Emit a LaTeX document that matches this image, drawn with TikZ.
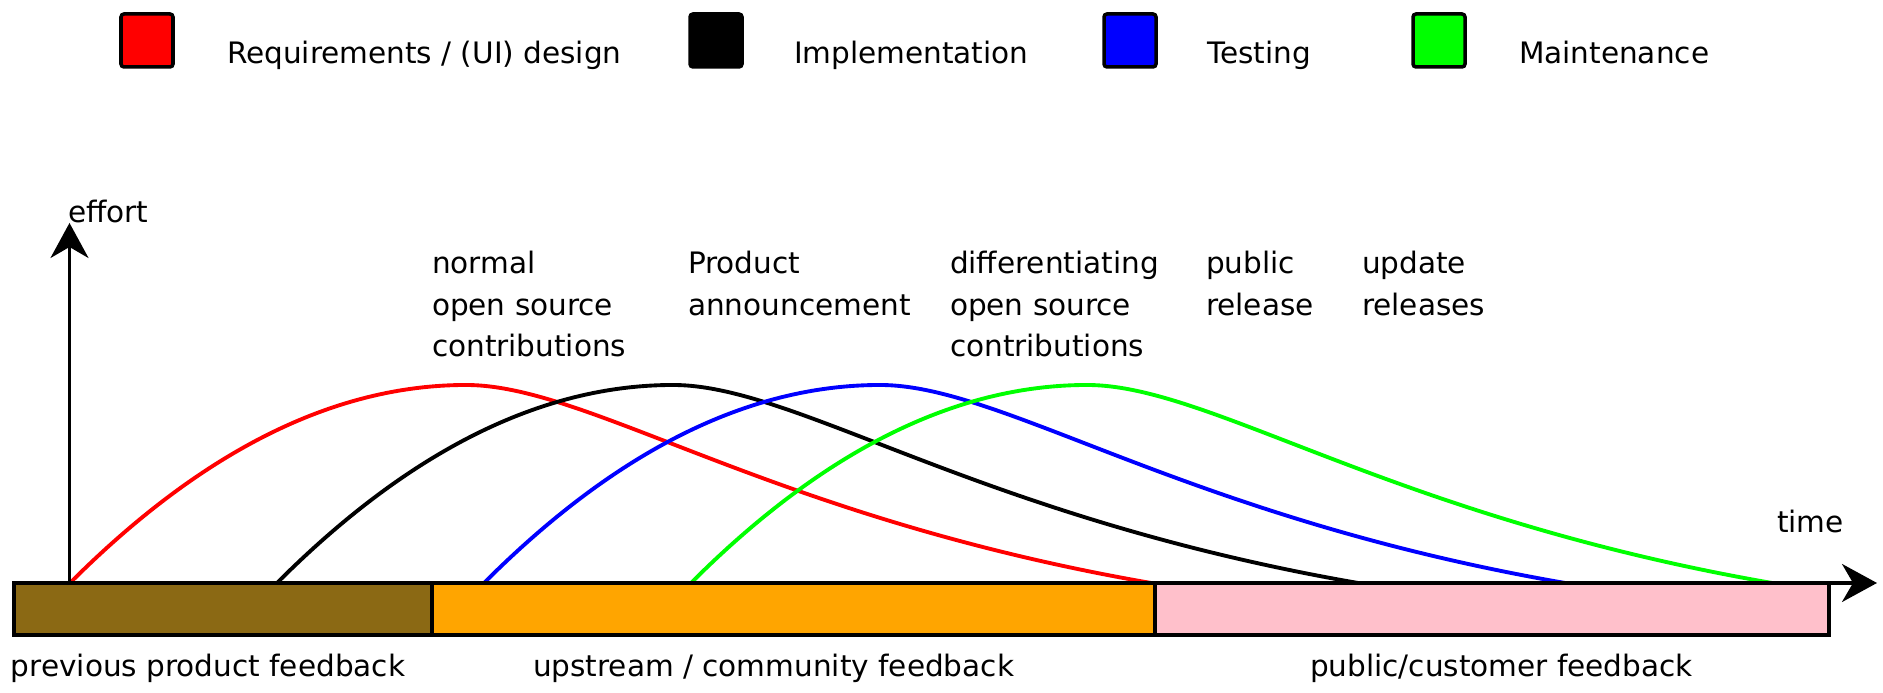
\documentclass[tikz,border=0pt]{standalone}
\usepackage{fontspec}
\setmainfont{DejaVu Sans}
\usetikzlibrary{calc,arrows.meta}
\definecolor{bandbrown}{HTML}{8B6914}
\definecolor{bandorange}{HTML}{FFA500}
\definecolor{bandpink}{HTML}{FFC0CB}
\definecolor{puregreen}{HTML}{00FF00}
\tikzset{>={Stealth[length=3.5mm,width=3.8mm,inset=1.1mm]},inner sep=0pt, outer sep=0pt,
	every node/.style={font=\fontsize{8.4pt}{11.7pt}\selectfont},
	legendbox/.style={draw=black, line width=1pt, rounded corners=0.3mm, minimum width=5.2mm, minimum height=5.3mm, anchor=south west},
	band/.style={draw=black, line width=0.9pt},
	effortcurve/.style={line width=1.1pt},
	axis/.style={line width=0.9pt,->},
	note/.style={anchor=north west, align=left},
}

\begin{document}
\begin{tikzpicture}[x=0.1mm,y=0.1mm]
				\useasboundingbox (0,0) rectangle (1883,693);
				
				% legend
				\node[legendbox, fill=red] (reqbox) at (121,626) {};
				\node[legendbox, fill=black] (implbox) at (690,626) {};
				\node[legendbox, fill=blue] (testbox) at (1104,626) {};
				\node[legendbox, fill=puregreen] (maintbox) at (1413,626) {};
				\node[anchor=base west] (reqtext) at (227,629) {Requirements / (UI) design};
				\node[anchor=base west] (impltext) at (794,629) {Implementation};
				\node[anchor=base west] (testtext) at (1207,629) {Testing};
				\node[anchor=base west] (mainttext) at (1519,629) {Maintenance};
				
				% feedback bands
				\coordinate (B) at (14,110);
				\draw[band, fill=bandbrown] (14,58) rectangle (432,110);
				\draw[band, fill=bandorange] (432,58) rectangle (1155,110);
				\draw[band, fill=bandpink] (1155,58) rectangle (1829,110);
				
				% effort curves
				\foreach \col/\s in {red/70, black/277, blue/484, puregreen/691}
					\draw[effortcurve, draw=\col, shift={(\s,110)}] (0,0) .. controls (132,132) and (264,198) .. (396,198) .. controls (520,198) and (700,66) .. (1081,0);
				
				% axes
				\coordinate (O) at (69.5,110);
				\coordinate (Y) at (69.5,470);
				\coordinate (X) at (1877,110);
				\draw[axis] (O)--(Y);
				\draw[axis] (B)--(X);
				\node[anchor=base west] (effort) at (68,470) {effort};
				\node[anchor=base west] (time) at (1777,160) {time};
				
				% milestones
				\node[note] (normal) at (432,441.5) {normal\\open source\\contributions};
				\node[note] (announce) at (688,441.5) {Product\\announcement};
				\node[note] (diff) at (950,441.5) {differentiating\\open source\\contributions};
				\node[note] (public) at (1206,441.5) {public\\release};
				\node[note] (update) at (1362,441.5) {update\\releases};
				
				% feedback labels
				\node[anchor=base west] (prevfb) at (11,16) {previous product feedback};
				\node[anchor=base west] (upfb) at (533,16) {upstream / community feedback};
				\node[anchor=base west] (custfb) at (1310,16) {public/customer feedback};
			\end{tikzpicture}
\end{document}
